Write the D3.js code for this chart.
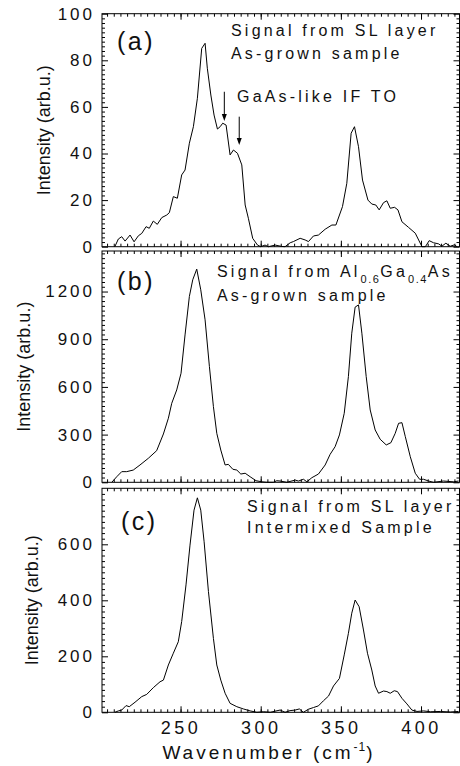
<!DOCTYPE html>
<html>
<head>
<meta charset="utf-8">
<script src="https://cdn.jsdelivr.net/npm/d3@7"></script>
<style>
body { margin: 0; background: #fff; }
text { font-family: "Liberation Sans", Arial, sans-serif; fill: #111; }
</style>
</head>
<body>
<svg id="chart" width="460" height="766"></svg>
<script>
// (a) SL layer, as-grown
var waveA = [209, 211.2, 213.3, 215.4, 218.5, 221, 223.7, 225.8, 228.5, 230.5, 233, 235.5, 238.3, 241.4, 243, 245.5, 248, 250.7, 252.8, 255.5, 258, 260.5, 263.2, 265.3, 266.7, 268.9, 270.9, 273, 274.7, 276.3, 278.4, 280.9, 283, 285.5, 288.2, 290.3, 292.3, 295, 298, 300, 302.7, 304.8, 309, 313.2, 315.2, 318.4, 320.4, 324.6, 327.7, 329.8, 332.9, 336, 340.2, 344.4, 346.9, 351, 353.7, 356.4, 358.5, 361, 363.5, 366.9, 369.3, 371.8, 373.9, 376.6, 378.7, 380.8, 383.5, 385.6, 388.1, 392.2, 396.4, 400.6, 402.7, 405.1, 407.8, 411, 413, 415.5, 418.2, 420.9, 422.4];
var intenA = [0, 3.3, 4.3, 2.4, 5, 2.1, 4.7, 5.7, 8.6, 7.9, 11, 9.6, 12.5, 13.6, 14.6, 21.5, 20.8, 30.8, 32.9, 44.4, 51.5, 63.7, 85.1, 87.3, 76.6, 65.1, 56.5, 50.5, 51.5, 53, 52.2, 39.4, 41.5, 40.1, 35.1, 17.9, 12.2, 3.6, 0.7, 0, 0.7, 0, 0.7, 0.1, 0, 1.7, 2.2, 3.6, 2.9, 2.2, 4.6, 5, 7.5, 9.3, 9.3, 17.2, 27.2, 48.7, 51.5, 42.9, 28.6, 20, 18.3, 17.9, 15.8, 18.9, 19.7, 16.5, 16.9, 15.8, 10.7, 8.3, 5.8, 0, 0, 2.6, 1.7, 1.2, 0.2, 1.5, 0.2, 0.8, 0];

// (b) Al0.6Ga0.4As, as-grown
var waveB = [207.1, 210.2, 213.3, 216.4, 220.5, 224.7, 229.9, 235.1, 239.3, 242.4, 244.5, 247.6, 250.3, 252.8, 255.5, 257.6, 260.1, 262.6, 265.3, 268, 270.5, 272.6, 275.1, 277.8, 279.8, 282.6, 285.1, 287.6, 290.3, 293.4, 297.1, 300.7, 303.8, 307.9, 310, 312.1, 316.3, 321.5, 323.5, 326.7, 328.8, 331.9, 336, 340.2, 343.3, 346.4, 349.1, 352.1, 354.7, 356.8, 358.9, 361, 363.1, 365.8, 368.3, 371.4, 374.5, 378.3, 381.2, 383.9, 386, 388.1, 390.2, 393.3, 396.4, 399.1, 401.6, 404.7, 407.8, 414, 420.3, 423.4];
var intenB = [0, 35, 67, 67, 77, 109, 151, 199, 304, 403, 497, 581, 686, 927, 1169, 1274, 1341, 1211, 1022, 728, 476, 308, 203, 109, 113, 82, 77, 52, 57, 35, 10, 3, 0, 0, 10, 8, 0, 14, 8, 19, 3, 29, 52, 109, 176, 224, 298, 434, 665, 938, 1102, 1116, 938, 665, 455, 329, 271, 235, 249, 308, 371, 375, 287, 161, 57, 19, 19, 8, 0, 8, 3, 8];

// (c) SL layer, intermixed
var waveC = [209.1, 211.2, 213.3, 216, 218, 221.6, 225.8, 228.9, 233, 237.2, 239.3, 242.4, 245.5, 248.6, 250.7, 253.4, 255.9, 258.4, 260.5, 262.6, 264.7, 267.4, 270.5, 272.6, 275.1, 277.8, 280.9, 285.1, 289.2, 293.4, 297.6, 301.7, 305.9, 312.1, 315.2, 318.3, 321.5, 324.1, 326.6, 329.8, 332.9, 336, 339.1, 342.3, 345.4, 349.1, 352.1, 354.7, 356.8, 358.9, 361.4, 364.1, 366.6, 369.3, 371.4, 373.5, 376.6, 378.7, 380.8, 383.3, 385.3, 388.1, 391.2, 394.3, 397.5, 401.6, 405.8, 412, 418.3, 423.4];
var intenC = [0, 5, 8, 24, 20, 36, 56, 64, 88, 109, 115, 169, 211, 252, 324, 455, 597, 722, 766, 722, 609, 431, 264, 169, 115, 68, 32, 20, 12, 5, 0, 2, 0, 8, 0, 6, 8, 12, 0, 11, 17, 23, 41, 58, 94, 121, 205, 282, 354, 401, 377, 294, 211, 151, 94, 68, 76, 74, 68, 77, 74, 50, 30, 8, 3, 5, 2, 3, 1, 3];

var xTicks = [250, 300, 350, 400];
var yTicksA = [0, 20, 40, 60, 80, 100];
var yTicksB = [0, 300, 600, 900, 1200];
var yTicksC = [0, 200, 400, 600];

// arrows in panel (a): wavenumber, start and end intensity
var arrowWave = [277.3, 286.6];
var arrowFrom = [66.5, 55.8];
var arrowTo = [53.9, 43.6];

var svg = d3.select("#chart");

var x = d3.scaleLinear().domain([201, 424]).range([102, 459.5]);
var xMinor = d3.range(200, 425, 50 / 12).filter(function (v) { return v >= 201 && v <= 424; });

var panels = [
    { wave: waveA, inten: intenA, yTicks: yTicksA, yMax: 100, yMinor: 2, top: 13.7, bottom: 246.7, titleX: 49.5, label: "(a)", labelX: 117, labelY: 50 },
    { wave: waveB, inten: intenB, yTicks: yTicksB, yMax: 1455, yMinor: 30, top: 251, bottom: 482.3, titleX: 30, label: "(b)", labelX: 117, labelY: 290 },
    { wave: waveC, inten: intenC, yTicks: yTicksC, yMax: 800, yMinor: 20, top: 488.3, bottom: 712.3, titleX: 38, label: "(c)", labelX: 121, labelY: 530 }
];

function styleAxis(sel) {
    sel.select(".domain").remove();
    sel.selectAll(".tick line").attr("stroke", "#000").attr("stroke-width", 1);
}

panels.forEach(function (p, i) {
    var y = d3.scaleLinear().domain([0, p.yMax]).range([p.bottom, p.top]);
    var yMinor = d3.range(0, p.yMax, p.yMinor).filter(function (v) { return p.yTicks.indexOf(v) < 0; });
    var g = svg.append("g");

    // left
    g.append("g").attr("transform", "translate(" + x.range()[0] + ",0)")
        .call(d3.axisLeft(y).tickValues(p.yTicks).tickSize(-6).tickPadding(10).tickFormat(d3.format("d")))
        .call(styleAxis)
        .selectAll("text")
        .attr("font-size", 17).attr("letter-spacing", 3).attr("dx", 3)
        .attr("font-family", "Liberation Sans, Arial, sans-serif").attr("fill", "#111");
    g.append("g").attr("transform", "translate(" + x.range()[0] + ",0)")
        .call(d3.axisLeft(y).tickValues(yMinor).tickSize(-3).tickFormat(""))
        .call(styleAxis);

    // right
    g.append("g").attr("transform", "translate(" + x.range()[1] + ",0)")
        .call(d3.axisRight(y).tickValues(p.yTicks).tickSize(-6).tickFormat(""))
        .call(styleAxis);
    g.append("g").attr("transform", "translate(" + x.range()[1] + ",0)")
        .call(d3.axisRight(y).tickValues(yMinor).tickSize(-3).tickFormat(""))
        .call(styleAxis);

    // top
    g.append("g").attr("transform", "translate(0," + p.top + ")")
        .call(d3.axisTop(x).tickValues(xTicks).tickSize(-6).tickFormat(""))
        .call(styleAxis);
    g.append("g").attr("transform", "translate(0," + p.top + ")")
        .call(d3.axisTop(x).tickValues(xMinor).tickSize(-3).tickFormat(""))
        .call(styleAxis);

    // bottom
    var bottomAxis = d3.axisBottom(x).tickValues(xTicks).tickSize(-6).tickPadding(9);
    if (i < 2) bottomAxis.tickFormat("");
    g.append("g").attr("transform", "translate(0," + p.bottom + ")")
        .call(bottomAxis)
        .call(styleAxis)
        .selectAll("text")
        .attr("font-size", 18).attr("letter-spacing", 3.5)
        .attr("font-family", "Liberation Sans, Arial, sans-serif").attr("fill", "#111");
    g.append("g").attr("transform", "translate(0," + p.bottom + ")")
        .call(d3.axisBottom(x).tickValues(xMinor).tickSize(-3).tickFormat(""))
        .call(styleAxis);

    // frame
    g.append("rect")
        .attr("x", x.range()[0]).attr("y", p.top)
        .attr("width", x.range()[1] - x.range()[0]).attr("height", p.bottom - p.top)
        .attr("fill", "none").attr("stroke", "#000").attr("stroke-width", 1);

    // spectrum
    var line = d3.line().x(function (d) { return x(d[0]); }).y(function (d) { return y(d[1]); });
    g.append("path")
        .datum(d3.zip(p.wave, p.inten))
        .attr("d", line)
        .attr("fill", "none").attr("stroke", "#000").attr("stroke-width", 1);

    // y title
    g.append("text")
        .attr("transform", "translate(" + p.titleX + "," + ((p.top + p.bottom) / 2) + ") rotate(-90)")
        .attr("text-anchor", "middle")
        .attr("font-size", 18)
        .text("Intensity (arb.u.)");

    // panel letter
    g.append("text")
        .attr("x", p.labelX).attr("y", p.labelY)
        .attr("font-size", 25).attr("letter-spacing", 2.5)
        .text(p.label);

    p.y = y;
});

// annotations
function note(xp, yp, str) {
    return svg.append("text").attr("x", xp).attr("y", yp)
        .attr("font-size", 16).attr("letter-spacing", 3.2).text(str);
}
note(231, 36, "Signal from SL layer");
note(231, 59, "As-grown sample");
note(237, 102, "GaAs-like IF TO");

var tb = svg.append("text").attr("x", 217).attr("y", 277).attr("font-size", 16).attr("letter-spacing", 3.2);
tb.append("tspan").text("Signal from Al");
tb.append("tspan").attr("font-size", 11).attr("letter-spacing", 1.5).attr("dy", 6).text("0.6");
tb.append("tspan").attr("dy", -6).text("Ga");
tb.append("tspan").attr("font-size", 11).attr("letter-spacing", 1.5).attr("dy", 6).text("0.4");
tb.append("tspan").attr("dy", -6).text("As");
note(217, 301, "As-grown sample");

note(247, 512, "Signal from SL layer");
note(247, 533, "Intermixed Sample");

// arrows in (a)
var yA = panels[0].y;
arrowWave.forEach(function (w, k) {
    var ax = x(w), y0 = yA(arrowFrom[k]), y1 = yA(arrowTo[k]);
    svg.append("line").attr("x1", ax).attr("x2", ax).attr("y1", y0).attr("y2", y1 - 5)
        .attr("stroke", "#000").attr("stroke-width", 1);
    svg.append("path")
        .attr("d", "M" + (ax - 2.5) + "," + (y1 - 7) + "L" + (ax + 2.5) + "," + (y1 - 7) + "L" + ax + "," + y1 + "Z")
        .attr("fill", "#000");
});

// x title
var xt = svg.append("text").attr("x", 269).attr("y", 759)
    .attr("text-anchor", "middle").attr("font-size", 19).attr("letter-spacing", 3);
xt.append("tspan").text("Wavenumber (cm");
xt.append("tspan").attr("font-size", 12).attr("dy", -8).attr("letter-spacing", 1).text("-1");
xt.append("tspan").attr("dy", 8).text(")");
</script>
</body>
</html>
